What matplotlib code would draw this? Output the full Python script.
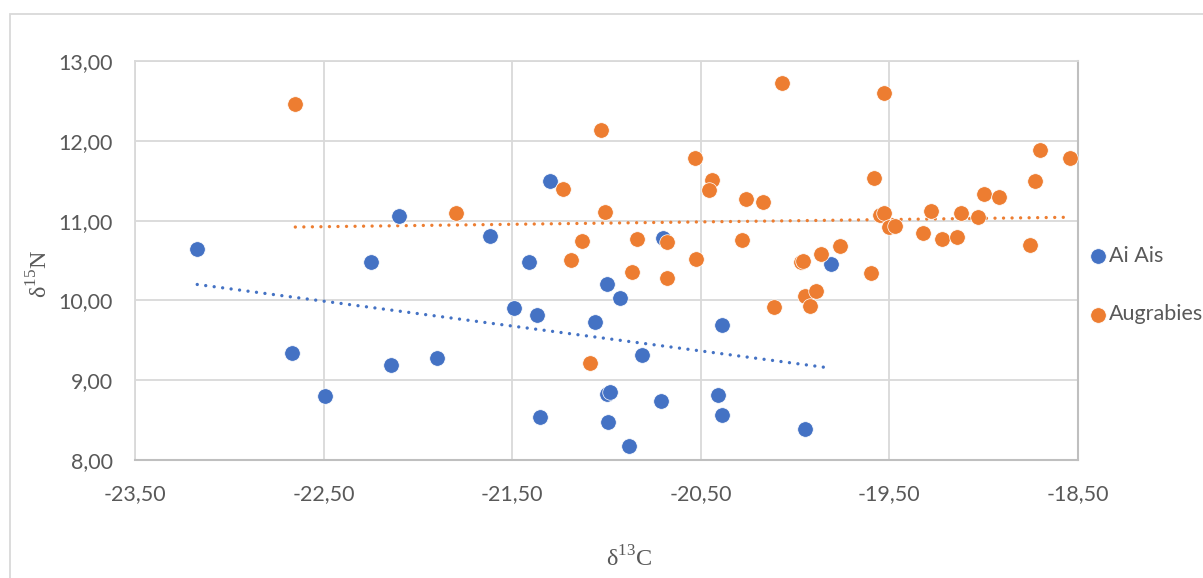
import matplotlib
matplotlib.use("Agg")
import matplotlib.pyplot as plt
import numpy as np
from matplotlib.patches import Rectangle

# ---- data ----
aiais_x = [-23.17, -22.67, -22.49, -22.25, -22.14, -22.10, -21.90, -21.62, -21.49, -21.41,
           -21.37, -21.35, -21.30, -21.06, -21.00, -21.00, -20.98, -20.99, -20.93, -20.88,
           -20.81, -20.71, -20.70, -20.41, -20.39, -20.39, -19.95, -19.81]
aiais_y = [10.64, 9.34, 8.80, 10.48, 9.19, 11.06, 9.28, 10.81, 9.91, 10.48,
           9.82, 8.54, 11.50, 9.73, 10.21, 8.83, 8.85, 8.48, 10.03, 8.18,
           9.31, 8.74, 10.78, 8.82, 9.69, 8.56, 8.39, 10.45]

aug_x = [-22.65, -21.80, -21.23, -21.03, -21.01, -21.13, -21.19, -21.09, -20.84, -20.865,
         -20.68, -20.68, -20.53, -20.44, -20.455, -20.525, -20.26, -20.17, -20.28, -20.07,
         -20.11, -19.97, -19.96, -19.95, -19.92, -19.89, -19.865, -19.76, -19.60, -19.58,
         -19.53, -19.55, -19.53, -19.50, -19.47, -19.32, -19.28, -19.22, -19.14, -19.12,
         -19.03, -19.00, -18.92, -18.755, -18.73, -18.70, -18.54]
aug_y = [12.46, 11.10, 11.40, 12.14, 11.11, 10.74, 10.51, 9.22, 10.77, 10.35,
         10.73, 10.28, 11.79, 11.51, 11.38, 10.52, 11.27, 11.23, 10.76, 12.72,
         9.92, 10.48, 10.50, 10.05, 9.93, 10.12, 10.585, 10.68, 10.34, 11.53,
         12.60, 11.07, 11.10, 10.92, 10.93, 10.84, 11.12, 10.77, 10.79, 11.10,
         11.05, 11.33, 11.30, 10.69, 11.50, 11.88, 11.79]

series_names = ["Ai Ais", "Augrabies"]
x_ticks = [-23.5, -22.5, -21.5, -20.5, -19.5, -18.5]
y_ticks = [8, 9, 10, 11, 12, 13]

BLUE = "#4472C4"
ORANGE = "#ED7D31"
GRID = "#D9D9D9"
TXT = "#595959"

plt.rcParams["mathtext.fontset"] = "custom"
plt.rcParams["mathtext.rm"] = "Liberation Serif"

fig = plt.figure(figsize=(12.03, 5.78), dpi=100)
# outer chart border
fig.patches.append(Rectangle((10/1203, -0.1), 1.2, 1 - 14/578 + 0.1, transform=fig.transFigure,
                             fill=False, edgecolor=GRID, linewidth=1.3))

ax = fig.add_axes([135/1203, 1 - 460/578, 943/1203, 399/578])

for xs, ys, c, name in [(aiais_x, aiais_y, BLUE, series_names[0]), (aug_x, aug_y, ORANGE, series_names[1])]:
    ax.scatter(xs, ys, s=125, color=c, edgecolors="white", linewidths=0.5, label=name, zorder=3)
    xs_a = np.array(xs); ys_a = np.array(ys)
    k, b = np.polyfit(xs_a, ys_a, 1)
    xl = np.array([xs_a.min(), xs_a.max()])
    ax.plot(xl, k * xl + b, color=c, linewidth=2.4, linestyle=(0, (0.01, 2.55)),
            dash_capstyle="round", zorder=2)

ax.set_xlim(x_ticks[0], x_ticks[-1])
ax.set_ylim(y_ticks[0], y_ticks[-1])
ax.set_xticks(x_ticks)
ax.set_yticks(y_ticks)
ax.set_xticklabels([f"{v:.2f}".replace(".", ",") for v in x_ticks])
ax.set_yticklabels([f"{v:.2f}".replace(".", ",") for v in y_ticks])
ax.tick_params(length=0, labelsize=15.5, labelcolor=TXT)
ax.tick_params(axis="x", pad=17)
ax.tick_params(axis="y", pad=16)
for lab in ax.get_xticklabels() + ax.get_yticklabels():
    lab.set_family("Lato")
ax.grid(True, color=GRID, linewidth=1.3)
ax.set_axisbelow(True)
for side in ["top", "left"]:
    ax.spines[side].set_color(GRID)
    ax.spines[side].set_linewidth(1.3)
for side in ["bottom", "right"]:
    ax.spines[side].set_color("#BFBFBF")
    ax.spines[side].set_linewidth(1.5)

ax.set_xlabel(r"δ$^{\mathrm{13}}$C", family="Liberation Serif", fontsize=17.5, color=TXT)
ax.set_ylabel(r"δ$^{\mathrm{15}}$N", family="Liberation Serif", fontsize=17.5, color=TXT)
ax.xaxis.set_label_coords((629 - 135) / 943, (460 - 546) / 399)
ax.yaxis.set_label_coords((53 - 135) / 943, (460 - 274) / 399)

leg = ax.legend(loc="center left", bbox_to_anchor=(1076/1203, 1 - 285/578), bbox_transform=fig.transFigure,
                frameon=False, handletextpad=0.05, labelspacing=1.8, borderpad=0, handlelength=1.0,
                prop={"family": "Lato", "size": 15.5}, markerscale=1.0)
for t in leg.get_texts():
    t.set_color(TXT)

fig.savefig("out.png", dpi=100)
